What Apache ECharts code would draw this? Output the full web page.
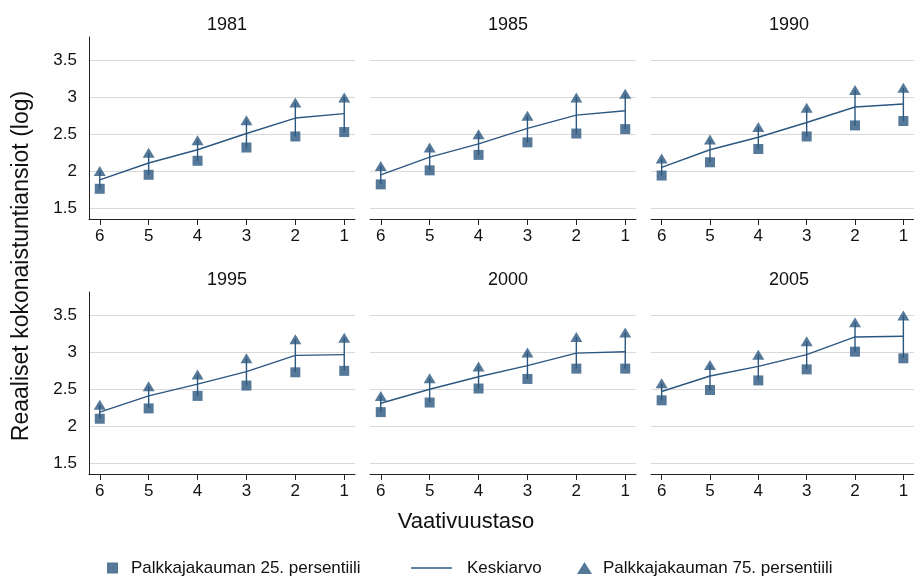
<!DOCTYPE html>
<html>
<head>
<meta charset="utf-8">
<script src="https://cdn.jsdelivr.net/npm/echarts@6/dist/echarts.min.js"></script>
<style>
  html, body { margin: 0; padding: 0; background: #fff; }
  #chart { width: 914px; height: 579px; }
</style>
</head>
<body>
<div id="chart"></div>
<script>
// Vaativuustaso (6 = lowest, 1 = highest)
const levels = [6, 5, 4, 3, 2, 1];
const years = ['1981', '1985', '1990', '1995', '2000', '2005'];
const yTicks = [1.5, 2, 2.5, 3, 3.5];

// Palkkajakauman 25. persentiili
const p25_1981 = [1.76, 1.95, 2.14, 2.32, 2.47, 2.53];
const p25_1985 = [1.82, 2.01, 2.22, 2.39, 2.51, 2.57];
const p25_1990 = [1.94, 2.12, 2.30, 2.47, 2.62, 2.68];
const p25_1995 = [2.10, 2.24, 2.41, 2.55, 2.73, 2.75];
const p25_2000 = [2.19, 2.32, 2.51, 2.64, 2.78, 2.78];
const p25_2005 = [2.35, 2.49, 2.62, 2.77, 3.01, 2.92];

// Keskiarvo
const mean_1981 = [1.88, 2.11, 2.29, 2.51, 2.72, 2.78];
const mean_1985 = [1.95, 2.19, 2.37, 2.58, 2.76, 2.82];
const mean_1990 = [2.05, 2.29, 2.46, 2.66, 2.87, 2.91];
const mean_1995 = [2.19, 2.41, 2.57, 2.74, 2.96, 2.97];
const mean_2000 = [2.31, 2.50, 2.67, 2.82, 2.99, 3.01];
const mean_2005 = [2.47, 2.68, 2.81, 2.97, 3.21, 3.22];

// Palkkajakauman 75. persentiili
const p75_1981 = [2.00, 2.25, 2.42, 2.69, 2.93, 3.00];
const p75_1985 = [2.07, 2.32, 2.50, 2.75, 3.00, 3.05];
const p75_1990 = [2.17, 2.43, 2.60, 2.86, 3.10, 3.13];
const p75_1995 = [2.29, 2.54, 2.70, 2.92, 3.18, 3.20];
const p75_2000 = [2.41, 2.65, 2.81, 3.00, 3.21, 3.27];
const p75_2005 = [2.58, 2.83, 2.97, 3.15, 3.41, 3.50];

const p25All = [p25_1981, p25_1985, p25_1990, p25_1995, p25_2000, p25_2005];
const meanAll = [mean_1981, mean_1985, mean_1990, mean_1995, mean_2000, mean_2005];
const p75All = [p75_1981, p75_1985, p75_1990, p75_1995, p75_2000, p75_2005];

const NAME_P25 = 'Palkkajakauman 25. persentiili';
const NAME_MEAN = 'Keskiarvo';
const NAME_P75 = 'Palkkajakauman 75. persentiili';

const COLOR = '#2c5780';
const FONT = 'Liberation Sans, Arial, sans-serif';
const TEXT = '#111';

const colLeft = [89, 370, 651];
const colWidth = 266;
const rowTop = [37, 292];
const rowHeight = 182;

const grids = [], xAxes = [], yAxes = [], series = [], titles = [];

years.forEach((yr, i) => {
  const col = i % 3, row = Math.floor(i / 3);
  grids.push({ left: colLeft[col], top: rowTop[row], width: colWidth, height: rowHeight });
  titles.push({
    text: yr,
    left: colLeft[col] + colWidth / 2,
    top: row === 0 ? 11 : 266,
    textAlign: 'center',
    textStyle: { fontFamily: FONT, fontSize: 18, fontWeight: 'normal', color: TEXT }
  });
  xAxes.push({
    gridIndex: i, type: 'value', inverse: true, min: 0.78, max: 6.22,
    axisLine: { show: true, lineStyle: { color: '#222', width: 1 } },
    axisTick: { show: true, length: 6, customValues: levels, lineStyle: { color: '#222' } },
    axisLabel: { customValues: levels, margin: 9, fontFamily: FONT, fontSize: 17, color: TEXT },
    splitLine: { show: false }
  });
  yAxes.push({
    gridIndex: i, type: 'value', min: 1.35, max: 3.82,
    axisLine: { show: col === 0, lineStyle: { color: '#222', width: 1 } },
    axisTick: { show: false, customValues: yTicks },
    axisLabel: { show: col === 0, customValues: yTicks, margin: 12, fontFamily: FONT, fontSize: 17, color: TEXT },
    splitLine: { show: true, lineStyle: { color: '#d9d9d9', width: 1 } }
  });

  // vertical spike from the 25th to the 75th percentile
  const rangeData = levels.map((lv, k) => [lv, p25All[i][k], p75All[i][k]]);
  series.push({
    type: 'custom', xAxisIndex: i, yAxisIndex: i, silent: true,
    data: rangeData,
    encode: { x: 0, y: [1, 2] },
    renderItem: (params, api) => {
      const lo = api.coord([api.value(0), api.value(1)]);
      const hi = api.coord([api.value(0), api.value(2)]);
      return { type: 'line', shape: { x1: lo[0], y1: lo[1], x2: hi[0], y2: hi[1] },
               style: { stroke: COLOR, lineWidth: 1.4 } };
    },
    z: 1
  });
  series.push({
    name: NAME_MEAN, type: 'line', xAxisIndex: i, yAxisIndex: i,
    data: levels.map((lv, k) => [lv, meanAll[i][k]]),
    symbol: 'none', color: COLOR, lineStyle: { color: COLOR, width: 1.4 }, z: 2
  });
  series.push({
    name: NAME_P25, type: 'scatter', xAxisIndex: i, yAxisIndex: i,
    data: levels.map((lv, k) => [lv, p25All[i][k]]),
    symbol: 'rect', symbolSize: 10, itemStyle: { color: COLOR }, z: 3
  });
  series.push({
    name: NAME_P75, type: 'scatter', xAxisIndex: i, yAxisIndex: i,
    data: levels.map((lv, k) => [lv, p75All[i][k]]),
    symbol: 'triangle', symbolSize: [12, 10], itemStyle: { color: COLOR }, z: 3
  });
});

const legendText = { fontFamily: FONT, fontSize: 17, color: TEXT, lineHeight: 20 };

const option = {
  animation: false,
  backgroundColor: '#fff',
  title: titles,
  grid: grids,
  xAxis: xAxes,
  yAxis: yAxes,
  series: series,
  legend: [
    { data: [{ name: NAME_P25, icon: 'rect' }], left: 107, top: 558, padding: 0,
      itemWidth: 11, itemHeight: 11, selectedMode: false,
      textStyle: Object.assign({ padding: [0, 0, 0, 8] }, legendText) },
    { data: [{ name: NAME_MEAN, icon: 'rect' }], left: 411, top: 558, padding: 0,
      itemWidth: 41, itemHeight: 1.5, selectedMode: false,
      textStyle: Object.assign({ padding: [0, 0, 0, 10] }, legendText) },
    { data: [{ name: NAME_P75, icon: 'triangle' }], left: 577, top: 558, padding: 0,
      itemWidth: 15, itemHeight: 12, selectedMode: false,
      textStyle: Object.assign({ padding: [0, 0, 0, 6] }, legendText) }
  ],
  graphic: [
    { type: 'text', x: 22, y: 266, rotation: Math.PI / 2,
      style: { text: 'Reaaliset kokonaistuntiansiot (log)', fontFamily: FONT, fontSize: 23,
               fill: TEXT, align: 'center', verticalAlign: 'middle' } },
    { type: 'text', x: 466, y: 522,
      style: { text: 'Vaativuustaso', fontFamily: FONT, fontSize: 22,
               fill: TEXT, align: 'center', verticalAlign: 'middle' } }
  ]
};

const chart = echarts.init(document.getElementById('chart'), null, { renderer: 'canvas' });
chart.setOption(option);
</script>
</body>
</html>
